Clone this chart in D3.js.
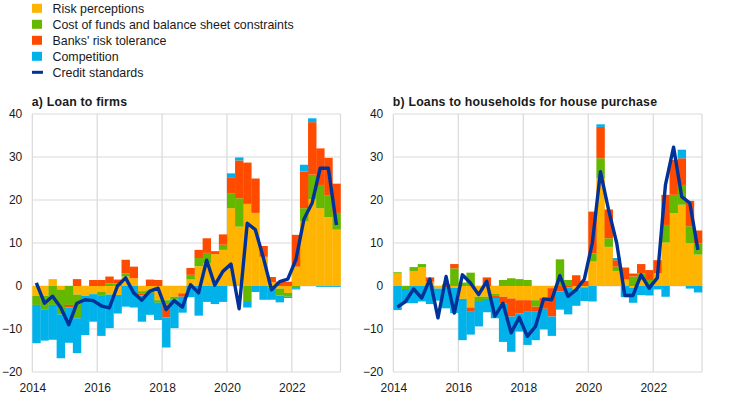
<!DOCTYPE html>
<html>
<head>
<meta charset="utf-8">
<script src="https://cdn.jsdelivr.net/npm/d3@7"></script>
<style>
  html, body { margin: 0; padding: 0; background: #fff; }
  svg { display: block; font-family: "Liberation Sans", Arial, sans-serif; }
</style>
</head>
<body>
<svg id="chart" width="733" height="398"></svg>
<script>
// ---------- data ----------
const quarters = d3.range(38).map(i => 2014 + i / 4); // 2014Q1 .. 2023Q2
const seriesNames = ["Risk perceptions", "Cost of funds and balance sheet constraints", "Banks' risk tolerance", "Competition"];
const lineName = "Credit standards";
const xTicks = [2014, 2016, 2018, 2020, 2022];
const yTicks = [-20, -10, 0, 10, 20, 30, 40];

// Panel a) Loan to firms
const firmsRisk = [-2.3,-2.3,1.6,-0.8,0,-2.0,-2.3,-1.9,-1.3,-2.0,-2.1,2.2,1.8,-1.2,-1.0,-3.3,-3.3,-2.5,-1.7,1.5,4.6,5.3,7.4,8.4,18.1,13.8,19.1,17.0,6.8,0.9,-0.6,-1.6,4.5,15.0,20.2,18.1,16.0,13.1];
const firmsCost = [-2.1,-3.1,-4.4,-5.8,-4.4,-5.5,0,0,-1.0,0.6,0.6,0.7,0,-0.5,-0.6,-0.6,-1.0,-0.6,0,1.1,1.9,2.4,0,1.2,3.5,6.6,-3.5,0,0,-0.3,-1.6,-0.9,-0.5,3.1,5.7,5.4,5.0,3.9];
const firmsTol  = [0,0,0,0,-0.6,1.6,0,1.4,1.4,1.6,0.9,3.2,2.7,-0.5,1.5,1.4,-3.0,0,-0.8,1.6,1.9,3.4,0.7,2.4,3.7,8.8,9.6,8.0,2.5,1.2,1.0,1.0,7.4,8.5,12.2,8.5,8.8,6.8];
const firmsComp = [-8.9,-7.3,-8.1,-10.2,-8.2,-8.1,-9.1,-6.4,-9.3,-7.8,-4.3,-4.8,-5.0,-6.1,-5.1,-4.0,-7.0,-6.7,-3.7,-2.6,-6.9,-3.7,-4.2,-3.7,0.9,0.7,-1.5,-1.4,-3.2,-2.9,-1.6,-0.3,-0.3,1.6,0.9,-0.2,-0.2,-0.2];
const firmsStd  = [0.7,-4.0,-2.4,-5.0,-9.0,-4.0,-3.2,-3.4,-4.6,-5.1,0.0,1.9,-1.6,-3.3,-1.2,-0.5,-5.5,-3.4,-4.9,0.3,-1.6,6.0,0.2,3.4,5.1,-5.3,14.6,13.1,6.5,-0.9,1.0,1.6,6.1,15.6,19.3,27.4,27.4,14.2];

// Panel b) Loans to households for house purchase
const hhRisk = [2.9,0,3.5,4.3,1.0,-0.6,0,-0.4,-3.0,-5.0,-2.5,-2.5,-1.8,-2.5,-2.9,-3.3,-3.3,-3.3,-2.8,-0.5,0,0,-0.8,-0.3,5.7,25.0,9.1,3.5,1.5,-0.4,1.4,0,3.0,10.1,16.9,18.9,10.0,7.3];
const hhCost = [0.3,-0.7,0.9,0.8,0,0,0.4,4.1,0.8,3.1,-1.0,-0.5,-0.5,1.4,1.8,1.6,1.4,-1.5,0,0,6.2,1.4,0,0,1.9,4.7,2.0,1.0,0,2.2,1.5,1.4,0,4.1,4.3,4.6,3.9,2.6];
const hhTol  = [0,0,0,0,1.0,0,-0.4,1.0,0,-1.0,0,2.0,-0.5,-1.5,-4.2,-3.1,-2.7,-1.2,-2.5,-6.6,-1.3,-0.3,2.5,1.2,9.7,7.3,6.7,1.5,2.8,0.7,2.2,2.3,3.0,7.0,8.1,6.2,5.9,3.0];
const hhComp = [-5.6,-3.3,-4.0,-3.6,-4.2,-2.8,-4.8,-5.9,-9.6,-5.3,-5.9,-3.1,-4.7,-9.0,-8.2,-4.2,-7.7,-6.6,-4.8,-4.5,-4.2,-6.3,-3.8,-3.2,-3.6,0.6,0,0.5,-2.6,-3.5,-2.1,-2.2,-0.8,-2.5,0,2.0,-0.6,-1.5];
const hhStd  = [-4.9,-3.6,-0.7,-2.8,1.6,-7.4,2.2,-6.3,2.6,0.7,-2.0,1.1,-7.0,-4.0,-10.9,-7.3,-11.7,-9.4,-3.0,-3.2,2.4,-2.4,-0.9,1.5,10.0,26.6,17.7,10.0,-2.2,-2.2,2.6,-0.5,1.9,23.5,32.3,20.8,19.3,8.4];

const colors = ["#ffb400", "#65b800", "#ff4b00", "#00b1ea"];
const lineColor = "#003299";
const gridColor = "#d9d9d9";
const textColor = "#1a1a1a";

// ---------- drawing ----------
const svg = d3.select("#chart");

// legend
const legend = svg.append("g");
seriesNames.forEach((name, i) => {
  const cy = 8.3 + i * 16;
  legend.append("rect").attr("x", 32).attr("y", cy - 4.5).attr("width", 10).attr("height", 9).attr("fill", colors[i]);
  legend.append("text").attr("x", 52.5).attr("y", cy).attr("dy", "0.36em")
    .attr("font-size", 12.4).attr("fill", textColor).text(name);
});
{
  const cy = 8.3 + 4 * 16;
  legend.append("line").attr("x1", 32).attr("x2", 43).attr("y1", cy).attr("y2", cy)
    .attr("stroke", lineColor).attr("stroke-width", 3);
  legend.append("text").attr("x", 52.5).attr("y", cy).attr("dy", "0.36em")
    .attr("font-size", 12.4).attr("fill", textColor).text(lineName);
}

function panel(opts) {
  const { x0, x1, title, risk, cost, tol, comp, std } = opts;
  const yTop = 114, yBot = 372;
  const x = d3.scaleLinear().domain([2014, 2023.5]).range([x0, x1]);
  const y = d3.scaleLinear().domain([-20, 40]).range([yBot, yTop]);
  const g = svg.append("g");

  // title
  g.append("text").attr("x", x0 - 0.5).attr("y", 106).attr("font-size", 12.3)
    .attr("font-weight", "bold").attr("letter-spacing", 0.2).attr("fill", textColor).text(title);

  // grid
  g.append("g").selectAll("line").data(yTicks).join("line")
    .attr("x1", x0).attr("x2", x1).attr("y1", d => y(d)).attr("y2", d => y(d))
    .attr("stroke", gridColor).attr("stroke-width", 1.2);
  g.append("g").selectAll("line").data(xTicks.concat([2023.5])).join("line")
    .attr("x1", d => x(d)).attr("x2", d => x(d)).attr("y1", yTop).attr("y2", yBot)
    .attr("stroke", gridColor).attr("stroke-width", 1.2);

  // stacked bars
  const rows = quarters.map((q, i) => ({ q, s0: risk[i], s1: cost[i], s2: tol[i], s3: comp[i] }));
  const stack = d3.stack().keys(["s0", "s1", "s2", "s3"]).offset(d3.stackOffsetDiverging);
  const layers = stack(rows);
  g.append("g").selectAll("g").data(layers).join("g")
    .attr("fill", (d, i) => colors[i])
    .selectAll("rect").data(d => d).join("rect")
      .attr("x", d => x(d.data.q))
      .attr("width", d => x(d.data.q + 0.25) - x(d.data.q) + 0.3)
      .attr("y", d => y(Math.max(d[0], d[1])))
      .attr("height", d => Math.abs(y(d[0]) - y(d[1])));

  // line
  const line = d3.line().x((d, i) => x(quarters[i] + 0.125)).y(d => y(d));
  g.append("path").datum(std).attr("d", line).attr("fill", "none")
    .attr("stroke", lineColor).attr("stroke-width", 3.4).attr("stroke-linejoin", "round");

  // axes labels
  const yAxis = d3.axisLeft(y).tickValues(yTicks).tickSize(0).tickPadding(10).tickFormat(d3.format("d"));
  const ya = g.append("g").attr("transform", `translate(${x0},0)`).call(yAxis);
  ya.select(".domain").remove();
  ya.selectAll("text").attr("font-size", 12).attr("fill", textColor).attr("font-family", "Liberation Sans, Arial, sans-serif");

  const xAxis = d3.axisBottom(x).tickValues(xTicks).tickSize(0).tickPadding(11).tickFormat(d3.format("d"));
  const xa = g.append("g").attr("transform", `translate(0,${yBot})`).call(xAxis);
  xa.select(".domain").remove();
  xa.selectAll("text").attr("font-size", 12).attr("fill", textColor).attr("font-family", "Liberation Sans, Arial, sans-serif");
}

panel({ x0: 32.3, x1: 340.5, title: "a) Loan to firms",
  risk: firmsRisk, cost: firmsCost, tol: firmsTol, comp: firmsComp, std: firmsStd });
panel({ x0: 393.3, x1: 702, title: "b) Loans to households for house purchase",
  risk: hhRisk, cost: hhCost, tol: hhTol, comp: hhComp, std: hhStd });
</script>
</body>
</html>
